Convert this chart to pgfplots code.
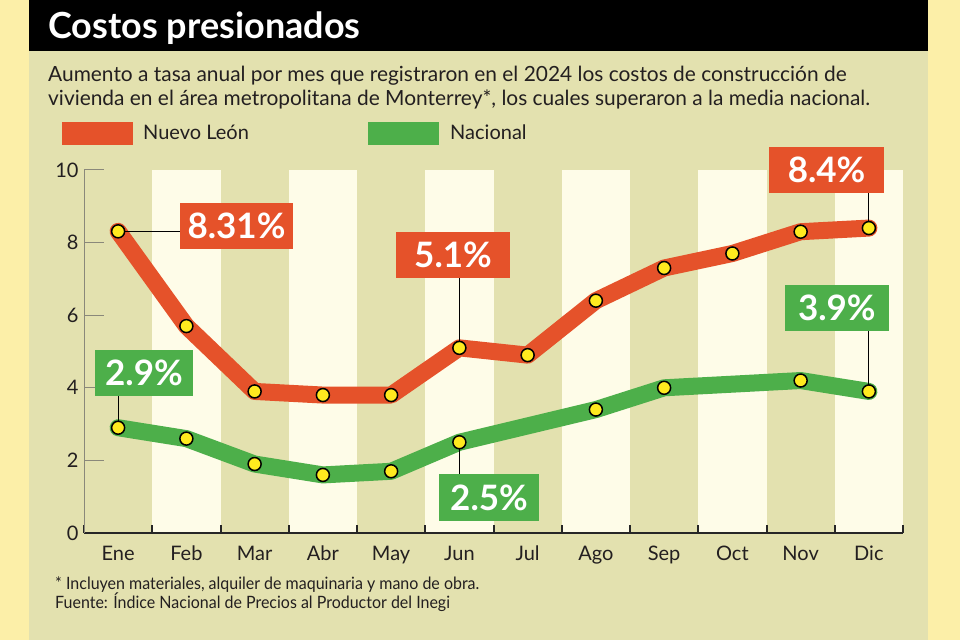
\documentclass[border=0pt]{standalone}
\usepackage{fontspec}
\setmainfont{Lato}
\usepackage{graphicx}
\usepackage{pgfplots}
\pgfplotsset{compat=1.18}
\definecolor{outer}{HTML}{FCEFA8}
\definecolor{panel}{HTML}{E3E1AF}
\definecolor{cream}{HTML}{FEFCE8}
\definecolor{nl}{HTML}{E5522A}
\definecolor{nac}{HTML}{4DAF4A}
\definecolor{dot}{HTML}{FFEA1F}
\definecolor{txt}{HTML}{231F20}
\definecolor{axgray}{HTML}{8A887A}
\begin{document}
\begin{tikzpicture}[x=1pt,y=1pt]
\fill[outer] (0,0) rectangle (960,640);
\fill[panel] (29,0) rectangle (928,640);
\fill[black] (29,589) rectangle (928,640);
\foreach \k in {0,...,5} {
  \fill[cream] ({84+68.25*(2*\k+1)},107) rectangle ({84+68.25*(2*\k+2)},470);
}
\node[anchor=base west, text=white, inner sep=0, font=\fontsize{36}{38}\selectfont\bfseries] at (48,601) {Costos presionados};
\node[anchor=base west, inner sep=0, text=txt, font=\fontsize{20.9}{24}\selectfont] at (48,558) {Aumento a tasa anual por mes que registraron en el 2024 los costos de construcción de};
\node[anchor=base west, inner sep=0, text=txt, font=\fontsize{20.9}{24}\selectfont] at (48,534) {vivienda en el área metropolitana de Monterrey*, los cuales superaron a la media nacional.};
\fill[nl] (62,495) rectangle (133,518);
\node[anchor=base west, inner sep=0, text=txt, font=\fontsize{20}{24}\selectfont] at (143,500) {Nuevo León};
\fill[nac] (368,495) rectangle (439,518);
\node[anchor=base west, inner sep=0, text=txt, font=\fontsize{20}{24}\selectfont] at (450,500) {Nacional};
\node[anchor=base west, inner sep=0, text=txt, font=\fontsize{17}{18}\selectfont] at (55,51) {\scalebox{0.94}[1]{* Incluyen materiales, alquiler de maquinaria y mano de obra.}};
\node[anchor=base west, inner sep=0, text=txt, font=\fontsize{17}{18}\selectfont] at (55,32) {\scalebox{0.94}[1]{Fuente: Índice Nacional de Precios al Productor del Inegi}};
\begin{axis}[
  at={(84pt,107pt)}, anchor=south west,
  scale only axis, width=819pt, height=363pt,
  xmin=-0.5, xmax=11.5, ymin=0, ymax=10,
  clip=false,
  axis x line=bottom, axis y line=left,
  axis line style={-},
  x axis line style={black!85, line width=2.5pt},
  y axis line style={axgray, line width=1pt},
  xtick={0,...,11},
  xticklabels={Ene,Feb,Mar,Abr,May,Jun,Jul,Ago,Sep,Oct,Nov,Dic},
  minor xtick={-0.5,0.5,...,11.5},
  ytick={0,2,4,6,8,10},
  tick align=inside,
  major tick length=20pt,
  minor tick length=8pt,
  major x tick style={draw=none},
  minor x tick style={black!85, line width=2pt},
  y tick style={axgray, line width=1pt},
  /pgf/number format/assume math mode=true,
  x tick label style={anchor=base, yshift=-27pt, font=\fontsize{20}{24}\selectfont, text=txt},
  y tick label style={anchor=east, xshift=-2pt, font=\fontsize{20}{24}\selectfont, text=txt},
]
\addplot[nl, line width=17pt, line join=round, line cap=round] coordinates {(0,8.31)(1,5.7)(2,3.9)(3,3.8)(4,3.8)(5,5.1)(6,4.9)(7,6.4)(8,7.3)(9,7.7)(10,8.3)(11,8.4)};
\addplot[nac, line width=17pt, line join=round, line cap=round] coordinates {(0,2.9)(1,2.6)(2,1.9)(3,1.6)(4,1.7)(5,2.5)(6,2.95)(7,3.4)(8,4.0)(9,4.1)(10,4.2)(11,3.9)};
\draw[black, line width=1.2pt] (axis cs:0,8.31) -- (axis cs:1.2,8.31);
\draw[black, line width=1.2pt] (axis cs:5,5.1) -- (axis cs:5,7.5);
\draw[black, line width=1.2pt] (axis cs:11,8.4) -- (axis cs:11,9.9);
\draw[black, line width=1.2pt] (axis cs:0,2.9) -- (axis cs:0,4.3);
\draw[black, line width=1.2pt] (axis cs:5,2.5) -- (axis cs:5,1.1);
\draw[black, line width=1.2pt] (axis cs:11,3.9) -- (axis cs:11,6.1);
\addplot[only marks, mark=*, mark size=6.5pt, mark options={fill=dot, draw=black, line width=1.5pt}] coordinates {(0,8.31)(1,5.7)(2,3.9)(3,3.8)(4,3.8)(5,5.1)(6,4.9)(7,6.4)(8,7.3)(9,7.7)(10,8.3)(11,8.4)};
\addplot[only marks, mark=*, mark size=6.5pt, mark options={fill=dot, draw=black, line width=1.5pt}] coordinates {(0,2.9)(1,2.6)(2,1.9)(3,1.6)(4,1.7)(5,2.5)(7,3.4)(8,4.0)(10,4.2)(11,3.9)};
\tikzset{lbl/.style={text=white, inner sep=0, minimum height=46pt, font=\fontsize{35}{35}\selectfont\bfseries, anchor=center}}
\node[lbl, fill=nl, minimum width=113pt] at (axis cs:1.734,8.47) {8.31\%};
\node[lbl, fill=nl, minimum width=114pt] at (axis cs:4.907,7.66) {5.1\%};
\node[lbl, fill=nl, minimum width=115pt] at (axis cs:10.38,10.01) {8.4\%};
\node[lbl, fill=nac, minimum width=98pt] at (axis cs:0.379,4.41) {2.9\%};
\node[lbl, fill=nac, minimum width=100pt] at (axis cs:5.434,0.978) {2.5\%};
\node[lbl, fill=nac, minimum width=104pt] at (axis cs:10.53,6.2) {3.9\%};
\end{axis}
\end{tikzpicture}
\end{document}
